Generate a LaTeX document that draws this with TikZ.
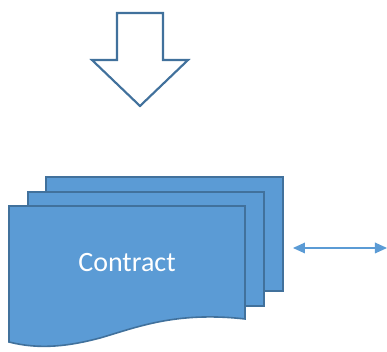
\documentclass[tikz,border=0pt]{standalone}
\usepackage{fontspec}
\setmainfont{Carlito}
\usepackage{xcolor}
\usetikzlibrary{arrows.meta}

\definecolor{docfill}{RGB}{91,155,213}
\definecolor{docline}{RGB}{65,113,156}

\tikzset{
  sheet/.style={draw=docline, fill=docfill, line width=1.2pt, line join=miter},
  hollowarrow/.style={draw=docline, fill=white, line width=1.6pt, line join=miter},
  link/.style={draw=docfill, line width=0.9pt, {Triangle[length=9pt,width=8pt]}-{Triangle[length=9pt,width=8pt]}}
}

\begin{document}
\begin{tikzpicture}[x=0.75pt,y=0.75pt,yscale=-1,xscale=1]
\useasboundingbox (0,0) rectangle (387,352);

%Shape: Down Arrow [id:arrowIn]
\draw [hollowarrow] (117,13) -- (163,13) -- (163,60) -- (188,60) -- (140,106) -- (92,60) -- (117,60) -- cycle ;

%Shape: Rectangle [id:sheetBack]
\draw [sheet] (46,177) rectangle (283,291) ;
%Shape: Rectangle [id:sheetMid]
\draw [sheet] (28,192) rectangle (264,306) ;
%Shape: Document [id:sheetFront]
\draw [sheet] (9,206) -- (245,206) -- (245,319) .. controls (175,311) and (135,328) .. (100,338) .. controls (70,346) and (40,350) .. (9,342) -- cycle ;

% Text Node
\node (contract) at (127,263) [inner sep=0.75pt, text=white, font=\fontsize{21}{25}\selectfont] {Contract};

%Straight Lines [id:linkOut]
\coordinate (linkA) at (293,248);
\coordinate (linkB) at (387,248);
\draw [link] (linkA) -- (linkB) ;

\end{tikzpicture}
\end{document}
